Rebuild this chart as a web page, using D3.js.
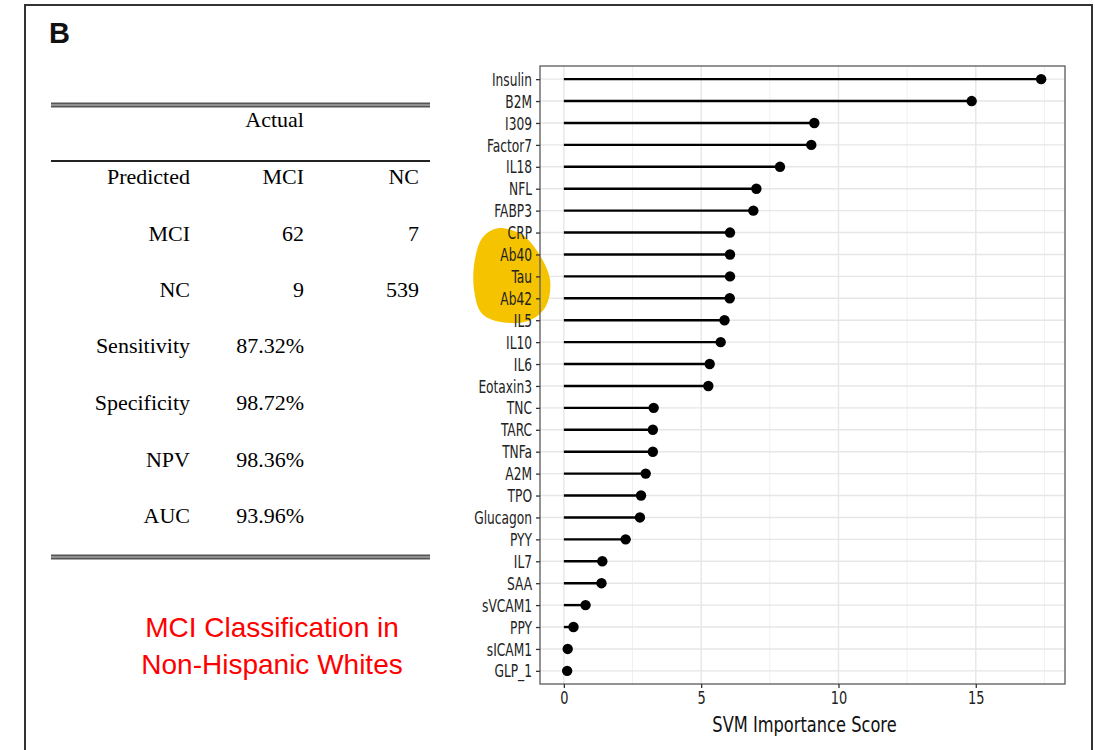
<!DOCTYPE html>
<html>
<head>
<meta charset="utf-8">
<script src="https://cdn.jsdelivr.net/npm/d3@7"></script>
<style>
  html, body { margin: 0; padding: 0; background: #fff; }
  svg { display: block; }
</style>
</head>
<body>
<svg id="fig" width="1095" height="750"></svg>
<script>
// ---- data -------------------------------------------------------------
const features = ["Insulin","B2M","I309","Factor7","IL18","NFL","FABP3","CRP","Ab40","Tau","Ab42",
  "IL5","IL10","IL6","Eotaxin3","TNC","TARC","TNFa","A2M","TPO","Glucagon","PYY","IL7","SAA",
  "sVCAM1","PPY","sICAM1","GLP_1"];
const scores = [17.38,14.85,9.12,9.01,7.87,7.01,6.90,6.05,6.05,6.05,6.04,
  5.85,5.71,5.31,5.26,3.27,3.24,3.24,2.98,2.81,2.77,2.25,1.40,1.37,
  0.79,0.35,0.14,0.12];
const highlighted = ["Ab40","Tau","Ab42"];
const xMajorTicks = [0, 5, 10, 15];
const xMinorTicks = [2.5, 7.5, 12.5, 17.5];
const xTitle = "SVM Importance Score";

const panelLetter = "B";
const actualLabel = "Actual";
const tableHeader = ["Predicted", "MCI", "NC"];
const confusionRows = [["MCI", "62", "7"], ["NC", "9", "539"]];
const metricNames = ["Sensitivity", "Specificity", "NPV", "AUC"];
const metricValues = ["87.32%", "98.72%", "98.36%", "93.96%"];
const captionLines = ["MCI Classification in", "Non-Hispanic Whites"];

// ---- layout -----------------------------------------------------------
const svg = d3.select("#fig");

// outer figure frame
svg.append("rect")
  .attr("x", 25).attr("y", 5).attr("width", 1067).attr("height", 800)
  .attr("fill", "none").attr("stroke", "#333").attr("stroke-width", 2);

svg.append("text")
  .attr("x", 49).attr("y", 43)
  .attr("font-family", "Liberation Sans, Arial, sans-serif")
  .attr("font-weight", "bold").attr("font-size", 29)
  .attr("fill", "#111")
  .text(panelLetter);

// ---- confusion table --------------------------------------------------
const serif = "Liberation Serif, 'Times New Roman', serif";
const tbl = svg.append("g").attr("font-family", serif).attr("font-size", 22).attr("fill", "#000");
const ruleX0 = 51, ruleX1 = 430;
const colRight = [190, 304, 419];

function doubleRule(y) {
  tbl.append("line").attr("x1", ruleX0).attr("x2", ruleX1).attr("y1", y - 1.5).attr("y2", y - 1.5)
    .attr("stroke", "#555").attr("stroke-width", 1.8);
  tbl.append("line").attr("x1", ruleX0).attr("x2", ruleX1).attr("y1", y + 1.5).attr("y2", y + 1.5)
    .attr("stroke", "#555").attr("stroke-width", 1.8);
  tbl.append("line").attr("x1", ruleX0).attr("x2", ruleX1).attr("y1", y).attr("y2", y)
    .attr("stroke", "#888").attr("stroke-width", 1.4);
}
doubleRule(105);
tbl.append("line").attr("x1", ruleX0).attr("x2", ruleX1).attr("y1", 161).attr("y2", 161)
  .attr("stroke", "#222").attr("stroke-width", 2);
doubleRule(557);

tbl.append("text").attr("x", colRight[1]).attr("y", 127).attr("text-anchor", "end").text(actualLabel);

const rowBase = [184, 241, 297, 353, 410, 467, 523];
const tableRows = [tableHeader, ...confusionRows,
  ...metricNames.map((m, i) => [m, metricValues[i], ""])];
tableRows.forEach((row, r) => {
  row.forEach((cell, c) => {
    if (!cell) return;
    tbl.append("text")
      .attr("x", colRight[c]).attr("y", rowBase[r])
      .attr("text-anchor", "end")
      .text(cell);
  });
});

// caption
const cap = svg.append("g")
  .attr("font-family", "Liberation Sans, Arial, sans-serif")
  .attr("font-size", 28).attr("fill", "#ff0000").attr("text-anchor", "middle");
captionLines.forEach((t, i) => {
  cap.append("text").attr("x", 272).attr("y", 637 + i * 37).text(t);
});

// ---- lollipop chart ---------------------------------------------------
const panel = { left: 540, right: 1065, top: 66, bottom: 684 };
const sx = 0.8;  // horizontal squeeze applied to chart text
const chartFont = "'DejaVu Sans Condensed', 'DejaVu Sans', sans-serif";

const xMax = d3.max(scores);
const pad = (xMax - 0) * 0.05;
const x = d3.scaleLinear().domain([0 - pad, xMax + pad]).range([panel.left, panel.right]);
const y = d3.scalePoint().domain(features).range([panel.top, panel.bottom]).padding(0.6);

const chart = svg.append("g");

// panel background
chart.append("rect")
  .attr("x", panel.left).attr("y", panel.top)
  .attr("width", panel.right - panel.left).attr("height", panel.bottom - panel.top)
  .attr("fill", "#fff");

// grid
chart.append("g").selectAll("line").data(xMinorTicks).join("line")
  .attr("x1", d => x(d)).attr("x2", d => x(d))
  .attr("y1", panel.top).attr("y2", panel.bottom)
  .attr("stroke", "#f0f0f0").attr("stroke-width", 1);
chart.append("g").selectAll("line").data(xMajorTicks).join("line")
  .attr("x1", d => x(d)).attr("x2", d => x(d))
  .attr("y1", panel.top).attr("y2", panel.bottom)
  .attr("stroke", "#e6e6e6").attr("stroke-width", 1.4);
chart.append("g").selectAll("line").data(features).join("line")
  .attr("x1", panel.left).attr("x2", panel.right)
  .attr("y1", d => y(d)).attr("y2", d => y(d))
  .attr("stroke", "#e6e6e6").attr("stroke-width", 1.4);

// highlighter mark behind the selected amyloid / tau labels
const hlTop = y(highlighted[0]), hlBot = y(highlighted[highlighted.length - 1]);
const hlMid = (hlTop + hlBot) / 2;
const hlR = (hlBot - hlTop) / 2;
const blobPts = [
  [-14, -2.2], [10, -1.9], [26, -1.1], [38, 0.15], [34, 1.35], [18, 2.0],
  [-8, 2.1], [-30, 1.7], [-38, 0.6], [-37, -0.8], [-29, -1.8]
].map(([dx, dy]) => [512 + dx, hlMid + dy * hlR]);
chart.append("path")
  .attr("d", d3.line().curve(d3.curveCatmullRomClosed.alpha(0.5))(blobPts))
  .attr("fill", "#f6c300");

// lollipops
chart.append("g").selectAll("line").data(features).join("line")
  .attr("x1", x(0)).attr("x2", (d, i) => x(scores[i]))
  .attr("y1", d => y(d)).attr("y2", d => y(d))
  .attr("stroke", "#000").attr("stroke-width", 2.4);
chart.append("g").selectAll("circle").data(features).join("circle")
  .attr("cx", (d, i) => x(scores[i])).attr("cy", d => y(d))
  .attr("r", 5.2).attr("fill", "#000");

// panel border
chart.append("rect")
  .attr("x", panel.left).attr("y", panel.top)
  .attr("width", panel.right - panel.left).attr("height", panel.bottom - panel.top)
  .attr("fill", "none").attr("stroke", "#666").attr("stroke-width", 1.4);

function squeezeText(sel) {
  sel.selectAll("text").each(function () {
    const t = d3.select(this);
    const tx = +t.attr("x") || 0;
    t.attr("x", tx / sx).attr("transform", `scale(${sx},1)`);
  });
}

// y axis
const yAxis = chart.append("g")
  .attr("transform", `translate(${panel.left},0)`)
  .call(d3.axisLeft(y).tickSize(4).tickPadding(4));
yAxis.select(".domain").remove();
yAxis.selectAll(".tick line").attr("stroke", "#333").attr("stroke-width", 1.3);
yAxis.selectAll(".tick text")
  .attr("font-family", chartFont).attr("font-size", 17).attr("fill", "#222")
  .attr("dy", "0.36em");
squeezeText(yAxis);

// x axis
const xAxis = chart.append("g")
  .attr("transform", `translate(0,${panel.bottom})`)
  .call(d3.axisBottom(x).tickValues(xMajorTicks).tickFormat(d3.format("d")).tickSize(4).tickPadding(3));
xAxis.select(".domain").remove();
xAxis.selectAll(".tick line").attr("stroke", "#333").attr("stroke-width", 1.3);
xAxis.selectAll(".tick text")
  .attr("font-family", chartFont).attr("font-size", 18).attr("fill", "#222");
squeezeText(xAxis);

// x title
const cx = (panel.left + panel.right) / 2 + 2;
chart.append("text")
  .attr("x", cx / 0.86).attr("y", 732)
  .attr("transform", "scale(0.86,1)")
  .attr("text-anchor", "middle")
  .attr("font-family", chartFont).attr("font-size", 21).attr("fill", "#111")
  .text(xTitle);
</script>
</body>
</html>
